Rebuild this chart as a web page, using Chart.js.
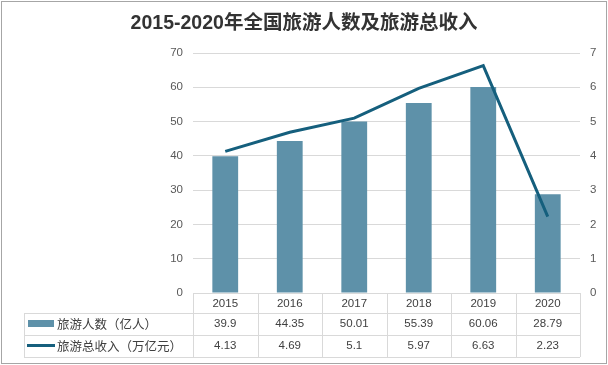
<!DOCTYPE html>
<html>
<head>
<meta charset="utf-8">
<script src="https://cdn.jsdelivr.net/npm/chart.js@4/dist/chart.umd.min.js"></script>
<style>
  body { margin: 0; background: #fff; }
  #wrap { width: 608px; height: 365px; }
</style>
</head>
<body>
<div id="wrap"><canvas id="myChart" width="608" height="365"></canvas></div>
<script>
"use strict";

let years = ["2015", "2016", "2017", "2018", "2019", "2020"];
let tourists = [39.9, 44.35, 50.01, 55.39, 60.06, 28.79];
let revenue = [4.13, 4.69, 5.1, 5.97, 6.63, 2.23];
let touristLabels = ["39.9", "44.35", "50.01", "55.39", "60.06", "28.79"];
let revenueLabels = ["4.13", "4.69", "5.1", "5.97", "6.63", "2.23"];
let touristName = "旅游人数（亿人）";
let revenueName = "旅游总收入（万亿元）";

let barColor = "#5e91a9";
let lineColor = "#155f7d";
let gridColor = "#d9d9d9";
let numFont = "'Liberation Sans', 'Noto Sans CJK SC', sans-serif";
let cjkFont = "'Noto Sans CJK SC', sans-serif";

// data table under the plot, drawn from the x scale columns
let tablePlugin = {
  id: "dataTable",
  afterDraw(chart) {
    let ctx = chart.ctx;
    let area = chart.chartArea;
    let xScale = chart.scales.x;
    let colW = (area.right - area.left) / years.length;
    let top = area.bottom;
    let r1 = top + 20, r2 = top + 42, r3 = top + 64;
    let tableLeft = 24;

    ctx.save();
    ctx.strokeStyle = gridColor;
    ctx.lineWidth = 1;
    ctx.beginPath();
    for (let i = 0; i <= years.length; i++) {
      let bx = Math.round(area.left + i * colW) + 0.5;
      ctx.moveTo(bx, top);
      ctx.lineTo(bx, r3);
    }
    ctx.moveTo(tableLeft + 0.5, r1);
    ctx.lineTo(tableLeft + 0.5, r3);
    [r1, r2, r3].forEach(function (y) {
      ctx.moveTo(tableLeft, y + 0.5);
      ctx.lineTo(area.right, y + 0.5);
    });
    ctx.stroke();

    ctx.fillStyle = "#404040";
    ctx.textAlign = "center";
    ctx.textBaseline = "middle";
    ctx.font = "11.5px " + numFont;
    for (let i = 0; i < years.length; i++) {
      let cx = xScale.getPixelForValue(i);
      ctx.fillText(years[i], cx, top + 10.5);
      ctx.fillText(touristLabels[i], cx, r1 + 11);
      ctx.fillText(revenueLabels[i], cx, r2 + 11);
    }

    // legend keys
    ctx.fillStyle = barColor;
    ctx.fillRect(28, r1 + 7, 26, 7);
    ctx.strokeStyle = lineColor;
    ctx.lineWidth = 3;
    ctx.beginPath();
    ctx.moveTo(27, r2 + 10.5);
    ctx.lineTo(55, r2 + 10.5);
    ctx.stroke();

    ctx.fillStyle = "#404040";
    ctx.textAlign = "left";
    ctx.font = "12.5px " + cjkFont;
    ctx.fillText(touristName, 57, r1 + 11);
    ctx.fillText(revenueName, 57, r2 + 11);

    // outer frame
    ctx.strokeStyle = "#a6a6a6";
    ctx.lineWidth = 1;
    ctx.strokeRect(1.5, 1.5, 605, 362);
    ctx.restore();
  }
};

let ctx = document.getElementById("myChart").getContext("2d");
let myChart = new Chart(ctx, {
  type: "bar",
  data: {
    labels: years,
    datasets: [
      {
        type: "line",
        label: revenueName,
        data: revenue,
        yAxisID: "y1",
        borderColor: lineColor,
        borderWidth: 3,
        pointRadius: 0,
        tension: 0,
        order: 0,
      },
      {
        type: "bar",
        label: touristName,
        data: tourists,
        yAxisID: "y",
        backgroundColor: barColor,
        barPercentage: 0.4,
        categoryPercentage: 1,
        order: 1,
      },
    ],
  },
  options: {
    responsive: false,
    animation: false,
    layout: { padding: { top: 0, bottom: 72, left: 0, right: 0 } },
    plugins: {
      legend: { display: false },
      tooltip: { enabled: false },
      title: {
        display: true,
        text: "2015-2020年全国旅游人数及旅游总收入",
        color: "#333333",
        font: { family: numFont, size: 19.5, weight: "bold", lineHeight: 1.2 },
        padding: { top: 12, bottom: 17.6 },
      },
    },
    scales: {
      x: {
        offset: true,
        grid: { display: false, drawTicks: false },
        border: { display: true, color: gridColor },
        ticks: { display: false },
      },
      y: {
        position: "left",
        min: 0,
        max: 70,
        ticks: { stepSize: 10, padding: 10, color: "#595959", font: { family: numFont, size: 11.5 } },
        grid: { color: gridColor, drawTicks: false },
        border: { display: false },
        afterFit: function (scale) { scale.width = 193; },
      },
      y1: {
        position: "right",
        min: 0,
        max: 7,
        ticks: { stepSize: 1, padding: 10, color: "#595959", font: { family: numFont, size: 11.5 } },
        grid: { drawOnChartArea: false, drawTicks: false },
        border: { display: false },
        afterFit: function (scale) { scale.width = 28; },
      },
    },
  },
  plugins: [tablePlugin],
});
</script>
</body>
</html>
